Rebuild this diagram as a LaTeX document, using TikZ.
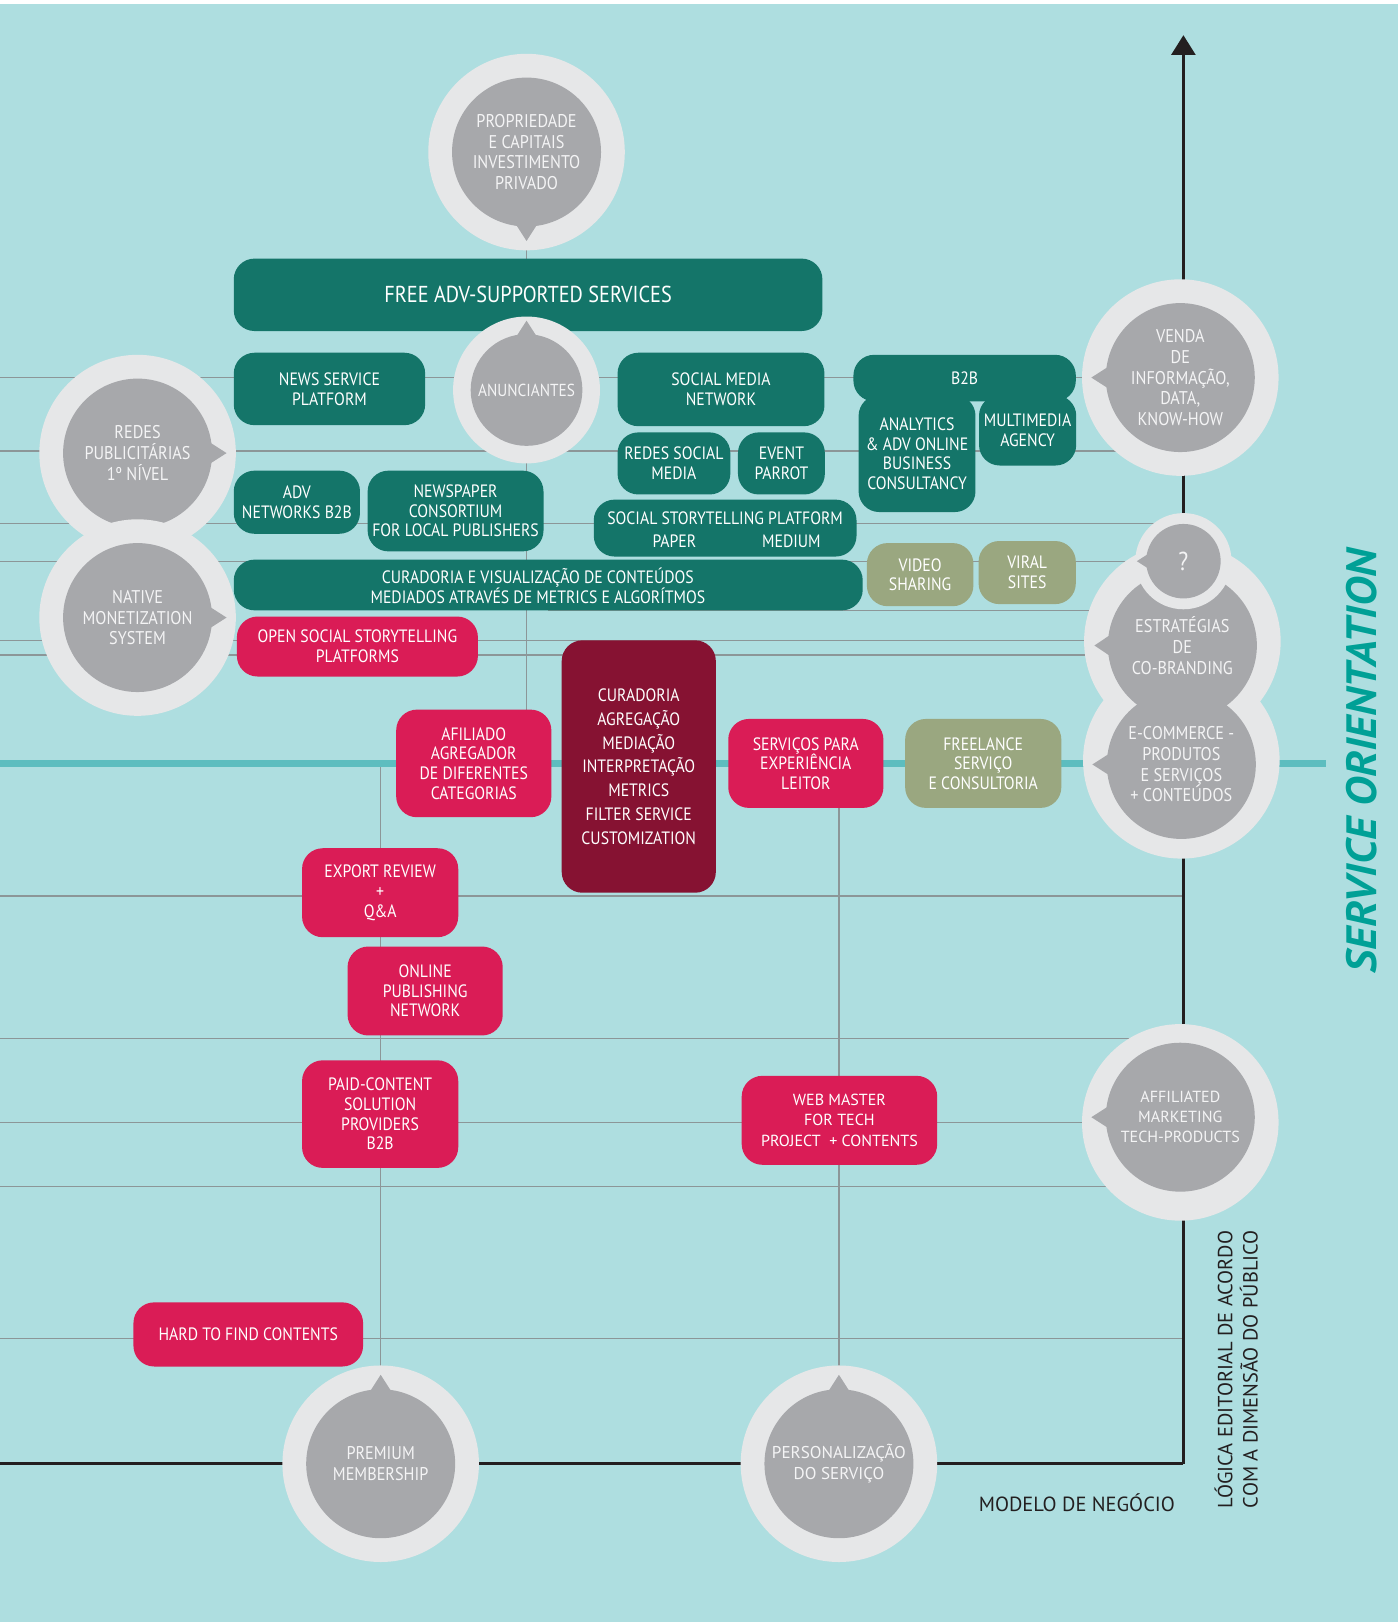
\documentclass[tikz,border=0pt]{standalone}
\usepackage{fontspec}
\setmainfont{PT Sans}[FakeStretch=0.88]
\newfontfamily\widefont{PT Sans}
\newfontfamily\orientfont{PT Sans}[FakeStretch=1.06]
\usetikzlibrary{positioning, calc, arrows.meta}

\definecolor{bgteal}{HTML}{AEDEE0}
\definecolor{boxteal}{HTML}{147569}
\definecolor{boxred}{HTML}{DA1C56}
\definecolor{boxwine}{HTML}{861232}
\definecolor{boxolive}{HTML}{9AA780}
\definecolor{ringgray}{HTML}{E6E7E8}
\definecolor{coregray}{HTML}{A7A8AB}
\definecolor{bubbletext}{HTML}{F4F4F5}
\definecolor{gridgray}{HTML}{8C9698}
\definecolor{tealline}{HTML}{5DBDBF}
\definecolor{axisblack}{HTML}{231F20}
\definecolor{orientteal}{HTML}{00A096}

\newcommand{\boxfont}{\fontsize{17.3}{19}\selectfont}
\newcommand{\bigboxfont}{\fontsize{22.3}{24}\selectfont}
\newcommand{\bubblefont}{\fontsize{17.8}{20}\selectfont}
\newcommand{\widebox}{\widefont\fontsize{15.5}{19.5}\selectfont}
\newcommand{\axisfont}{\widefont\fontsize{19.8}{24.5}\selectfont}

% speech-bubble tip: node, direction, base radius, tip radius, half angle
\newcommand{\pointer}[5]{%
  \fill[coregray] ($(#1.center)+({#2+#5}:#3pt)$) -- ($(#1.center)+(#2:#4pt)$)
    -- ($(#1.center)+({#2-#5}:#3pt)$) -- cycle;}

\pgfdeclarelayer{back}
\pgfdeclarelayer{grid}
\pgfsetlayers{back,grid,main}

\begin{document}
\begin{tikzpicture}[x=1pt, y=-1pt,
  box/.style={rounded corners=20pt, inner sep=0pt, text=white, align=center, font=\boxfont},
  boxsize/.style 2 args={minimum width=#1pt, minimum height=#2pt},
  tealbox/.style={box, fill=boxteal},
  redbox/.style={box, fill=boxred},
  winebox/.style={box, fill=boxwine},
  olivebox/.style={box, fill=boxolive},
  boxtext/.style={inner sep=0pt, text=white, align=center, font=\boxfont},
  ring/.style={circle, fill=ringgray, inner sep=0pt, minimum size=190pt},
  core/.style={circle, fill=coregray, inner sep=-30pt, minimum size=144pt,
    text=bubbletext, align=center, font=\bubblefont},
  gridline/.style={draw=gridgray, line width=1.4pt},
  axis/.style={draw=axisblack, line width=2.9pt},
]
\useasboundingbox (0,0) rectangle (1351,1568);
\begin{pgfonlayer}{back}
  \fill[white] (0,0) rectangle (1351,1568);
  \fill[bgteal] (0,3.9) rectangle (1351,1568);
\end{pgfonlayer}

% teal boxes
\node[tealbox, boxsize={569}{70}, font=\bigboxfont] (free) at (510.5,285) {FREE ADV-SUPPORTED SERVICES};
\node[tealbox, boxsize={185}{70}] (news) at (318.5,376) {NEWS SERVICE\\PLATFORM};
\node[tealbox, boxsize={200}{71}] (social) at (697,376.5) {SOCIAL MEDIA\\NETWORK};
\node[tealbox, boxsize={215}{45}] (b2b) at (932.5,365.5) {B2B};
\node[tealbox, boxsize={113}{113}] (analytics) at (886.5,438.5) {ANALYTICS\\\& ADV ONLINE\\BUSINESS\\CONSULTANCY};
\node[tealbox, boxsize={94}{68}, right=3pt of analytics.north east, anchor=north west] (multimedia) {MULTIMEDIA\\AGENCY};
\node[tealbox, boxsize={109}{60}] (redessm) at (651.5,448) {REDES SOCIAL\\MEDIA};
\node[tealbox, boxsize={84}{60}, right=7pt of redessm] (event) {EVENT\\PARROT};
\node[tealbox, boxsize={122}{61}] (advnet) at (287,485.5) {ADV\\NETWORKS B2B};
\node[tealbox, boxsize={170}{78}, right=7pt of advnet.north east, anchor=north west] (newspaper) {NEWSPAPER\\CONSORTIUM\\FOR LOCAL PUBLISHERS};
\node[tealbox, boxsize={254}{55}] (story) at (701,510.5) {};
\node[boxtext] (storytitle) at (701,501) {SOCIAL STORYTELLING PLATFORM};
\node[boxtext] (paper) at (652,523) {PAPER};
\node[boxtext] (medium) at (765,523) {MEDIUM};
\node[tealbox, boxsize={608}{49}] (curvis) at (530,565.5) {};
\node[boxtext] (curvistext) at (520,566.5) {CURADORIA E VISUALIZAÇÃO DE CONTEÚDOS\\MEDIADOS ATRAVÉS DE METRICS E ALGORÍTMOS};

% olive boxes
\node[olivebox, boxsize={103}{61}] (video) at (889.5,555.5) {VIDEO\\SHARING};
\node[olivebox, boxsize={94}{61}] (viral) at (993,553.5) {VIRAL\\SITES};
\node[olivebox, boxsize={151}{86}] (freelance) at (950.5,738) {FREELANCE\\SERVIÇO\\E CONSULTORIA};

% red boxes
\node[redbox, boxsize={233}{58}] (opensocial) at (345.5,625) {OPEN SOCIAL STORYTELLING\\PLATFORMS};
\node[redbox, boxsize={150}{104}] (afiliado) at (458,738) {AFILIADO\\AGREGADOR\\DE DIFERENTES\\CATEGORIAS};
\node[redbox, boxsize={150}{86}] (servicos) at (779,738) {SERVIÇOS PARA\\EXPERIÊNCIA\\LEITOR};
\node[redbox, boxsize={151}{86}] (export) at (367.5,863) {EXPORT REVIEW\\+\\Q\&A};
\node[redbox, boxsize={150}{86}] (online) at (411,958) {ONLINE\\PUBLISHING\\NETWORK};
\node[redbox, boxsize={151}{104}] (paid) at (367.5,1077) {PAID-CONTENT\\SOLUTION\\PROVIDERS\\B2B};
\node[redbox, boxsize={189}{86}, font=\widebox] (webmaster) at (811.5,1083) {WEB MASTER\\FOR TECH\\PROJECT \ + CONTENTS};
\node[redbox, boxsize={222}{62}] (hardfind) at (240,1290) {HARD TO FIND CONTENTS};

% wine box
\node[winebox, boxsize={149}{244}, font=\fontsize{17.3}{23}\selectfont] (curagg) at (617.5,741) {CURADORIA\\AGREGAÇÃO\\MEDIAÇÃO\\INTERPRETAÇÃO\\METRICS\\FILTER SERVICE\\CUSTOMIZATION};

% bubbles
\node[ring] (prop-r) at (509,147) {};
\node[core] (prop) at (509,147) {PROPRIEDADE\\E CAPITAIS\\INVESTIMENTO\\PRIVADO};
\pointer{prop}{-90}{66}{86}{12}
\node[ring, minimum size=142pt] (anun-r) at (509,377) {};
\node[core, minimum size=108pt, font=\fontsize{16.8}{20}\selectfont] (anun) at (509,377) {ANUNCIANTES};
\pointer{anun}{90}{49}{67}{15}
\node[ring] (redes-r) at (133,438) {};
\node[core] (redes) at (133,438) {REDES\\PUBLICITÁRIAS\\1º NÍVEL};
\pointer{redes}{0}{66}{86}{12}
\node[ring] (native-r) at (133,597) {};
\node[core] (native) at (133,597) {NATIVE\\MONETIZATION\\SYSTEM};
\pointer{native}{0}{66}{86}{12}
\node[ring] (venda-r) at (1141,365) {};
\node[core] (venda) at (1141,365) {VENDA\\DE\\INFORMAÇÃO,\\DATA,\\KNOW-HOW};
\pointer{venda}{180}{66}{86}{12}
\node[ring] (estr-r) at (1143,620) {};
\node[ring] (ecom-r) at (1142,735) {};
\node[core] (estr) at (1143,624) {ESTRATÉGIAS\\DE\\CO-BRANDING};
\node[core] (ecom) at (1142,739) {E-COMMERCE -\\PRODUTOS\\E SERVIÇOS\\+ CONTEÚDOS};
\pointer{estr}{180}{66}{85}{12}
\pointer{ecom}{180}{66}{86}{12}
\node[ring, minimum size=93pt] (qmark-r) at (1144,542.5) {};
\node[core, minimum size=72pt, font=\fontsize{25}{27}\selectfont] (qmark) at (1144,542.5) {?};
\pointer{qmark}{180}{31}{45}{19}
\node[ring] (affil-r) at (1141,1085) {};
\node[core, font=\widebox] (affil) at (1141,1080) {AFFILIATED\\MARKETING\\TECH-PRODUCTS};
\pointer{affil}{180}{66}{86}{12}
\node[ring] (premium-r) at (368,1415) {};
\node[core] (premium) at (368,1415) {PREMIUM\\MEMBERSHIP};
\pointer{premium}{90}{66}{86}{12}
\node[ring] (person-r) at (811,1415) {};
\node[core, font=\widefont\fontsize{16.5}{20}\selectfont] (person) at (811,1415) {PERSONALIZAÇÃO\\DO SERVIÇO};
\pointer{person}{90}{66}{86}{12}

% axis labels
\node[text=orientteal, rotate=90, inner sep=0pt, font=\fontsize{41}{42}\selectfont\orientfont\bfseries\itshape] (orient) at (1316,736) {SERVICE ORIENTATION};
\node[text=axisblack, inner sep=0pt, anchor=base, font=\axisfont] (modelo) at (1041,1461) {MODELO DE NEGÓCIO};
\node[text=axisblack, inner sep=0pt, rotate=90, anchor=west, align=left, font=\axisfont] (logica) at (1195,1458) {LÓGICA EDITORIAL DE ACORDO\\COM A DIMENSÃO DO PÚBLICO};

% grid behind everything
\begin{pgfonlayer}{grid}
  \coordinate (g365) at (0,365);
  \coordinate (g436) at (0,436);
  \coordinate (g506) at (0,506);
  \coordinate (g543) at (0,543);
  \coordinate (g590) at (0,590);
  \coordinate (g619) at (0,619);
  \coordinate (g633) at (0,633);
  \coordinate (g738) at (0,738);
  \coordinate (g866) at (0,866);
  \coordinate (g1004) at (0,1004);
  \coordinate (g1085) at (0,1085);
  \coordinate (g1147) at (0,1147);
  \coordinate (g1294) at (0,1294);
  \coordinate (corner) at (1144,1415);
  \coordinate (top) at (1144,34);
  \coordinate (g1415) at (0,1415);
  \coordinate (tealend) at (1282,738);

  \draw[gridline] (g365) -- (g365 -| venda);
  \draw[gridline] (g436) -- (g436 -| venda);
  \draw[gridline] (g506) -- (g506 -| qmark);
  \draw[gridline] (g543) -- (g543 -| qmark);
  \draw[gridline] (g590 -| curvis) -- (g590 -| estr);
  \draw[gridline] (g619) -- (g619 -| estr);
  \draw[gridline] (g633) -- (g633 -| estr);
  \draw[gridline] (g866) -- (g866 -| corner);
  \draw[gridline] (g1004) -- (g1004 -| corner);
  \draw[gridline] (g1085) -- (g1085 -| affil);
  \draw[gridline] (g1147) -- (g1147 -| corner);
  \draw[gridline] (g1294) -- (g1294 -| corner);

  \draw[gridline] (prop) -- (prop |- afiliado);
  \draw[gridline] (premium |- g738) -- (premium);
  \draw[gridline] (person |- servicos) -- (person);

  \draw[draw=tealline, line width=6.5pt] (g738) -- (tealend);

  \draw[axis] (g1415) -- (corner);
  \draw[axis, -{Triangle[width=23pt, length=19pt]}] (corner) -- (top);
\end{pgfonlayer}
\end{tikzpicture}
\end{document}
